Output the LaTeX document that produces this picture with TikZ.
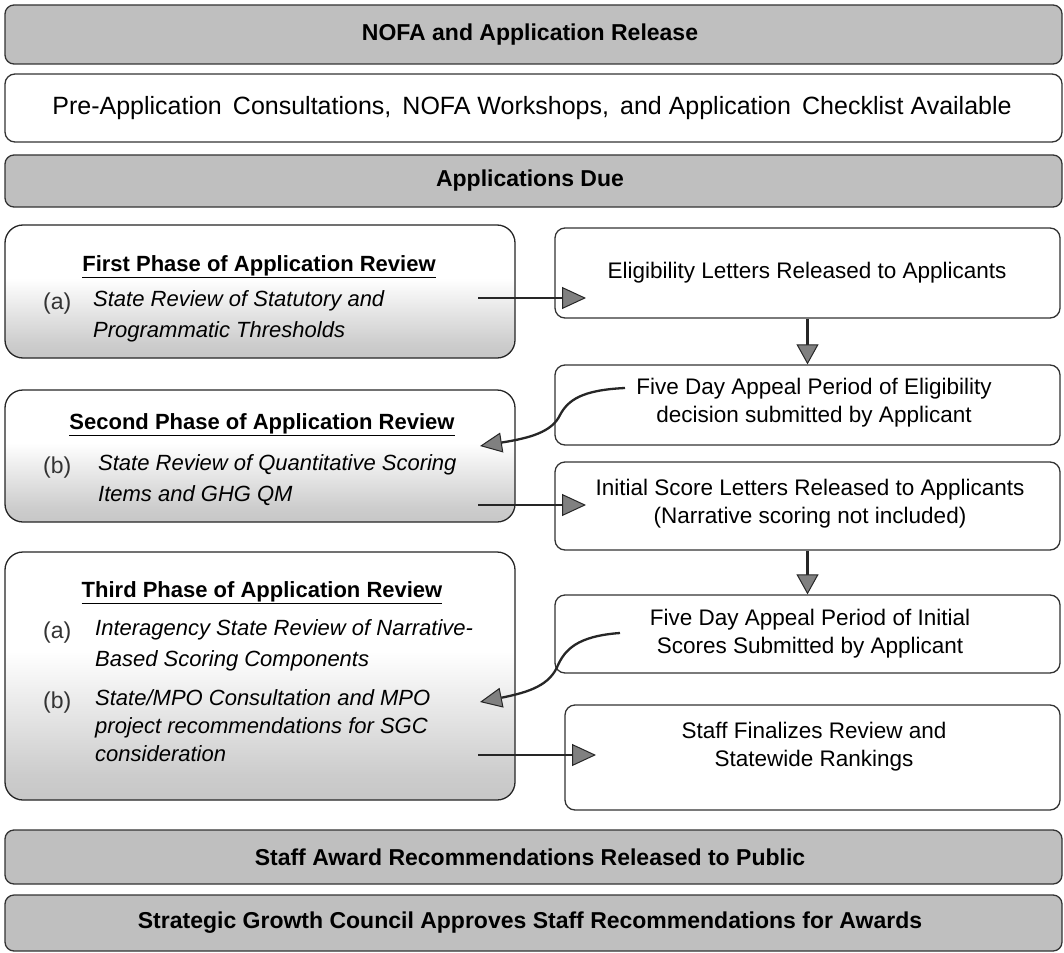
\documentclass[tikz,border=0pt]{standalone}
\usepackage{fontspec}
\setmainfont{Liberation Sans}
\usetikzlibrary{arrows.meta,calc}
\pgfdeclareverticalshading{phasefade}{100bp}{color(0bp)=(black!32); color(30bp)=(black!20); color(55bp)=(white); color(100bp)=(white)}
\begin{document}
\begin{tikzpicture}[x=1pt,y=-1pt,
  bar/.style={draw=black!80, line width=1.3pt, fill=black!25, rounded corners=9pt, inner sep=0pt},
  plain/.style={draw=black!80, line width=1.3pt, fill=white, rounded corners=10pt, inner sep=0pt},
  phase/.style={draw=black!85, line width=1.3pt, shading=phasefade, rounded corners=18pt, inner sep=0pt},
  bartext/.style={font=\fontsize{23}{27}\selectfont\bfseries},
  boxtext/.style={font=\fontsize{22.5}{28}\selectfont, align=center},
  ptitle/.style={font=\fontsize{22}{26}\selectfont\bfseries},
  plabel/.style={font=\fontsize{23}{26}\selectfont, anchor=west, inner sep=0pt, text=black!80},
  pitem/.style={font=\fontsize{22}{31}\selectfont\itshape, anchor=north west, align=left, inner sep=0pt},
  flow/.style={line width=2.3pt, draw=black!85, -{Triangle[length=24pt,width=22pt,fill=black!50,line width=1pt]}},
  down/.style={line width=2.3pt, draw=black!85, -{Triangle[length=20pt,width=22pt,fill=black!50,line width=1pt]}},
  curvy/.style={line width=2.3pt, draw=black!85, -{Triangle[length=22pt,width=20pt,fill=black!50,line width=1pt]}}
]
\useasboundingbox (0,0) rectangle (1064,952);
\fill[white] (0,0) rectangle (1064,952);

% full-width bars
\node[bar, minimum width=1057pt, minimum height=59pt] (nofa) at (533.5,34.5) {};
\node[bartext] (nofat) at (530,34.5) {NOFA and Application Release};
\node[plain, minimum width=1057pt, minimum height=68pt] (pre) at (533.5,108) {};
\node[font=\fontsize{25}{29}\selectfont] (pret) at (532,108) {Pre-Application\, Consultations,\, NOFA Workshops,\, and Application\, Checklist Available};
\node[bar, minimum width=1057pt, minimum height=52pt] (due) at (533.5,181) {};
\node[bartext] (duet) at (530,181) {Applications Due};

% left phase boxes
\node[phase, minimum width=510pt, minimum height=133pt] (first) at (260,291.5) {};
\node[ptitle] (firstt) at (259,267) {\underline{First Phase of Application Review}};
\node[plabel] (firsta) at (43,304) {(a)};
\node[pitem] (firsti) at (93,290) {State Review of Statutory and\\Programmatic Thresholds};

\node[phase, minimum width=510pt, minimum height=132pt] (second) at (260,456) {};
\node[ptitle] (secondt) at (262,425) {\underline{Second Phase of Application Review}};
\node[plabel] (seconda) at (43,468) {(b)};
\node[pitem] (secondi) at (98,454) {State Review of Quantitative Scoring\\Items and GHG QM};

\node[phase, minimum width=510pt, minimum height=248pt] (third) at (260,676) {};
\node[ptitle] (thirdt) at (262,593) {\underline{Third Phase of Application Review}};
\node[plabel] (thirda) at (43,633) {(a)};
\node[pitem] (thirdi) at (95,619) {Interagency State Review of Narrative-\\Based Scoring Components};
\node[plabel] (thirdb) at (43,703) {(b)};
\node[pitem, font=\fontsize{22}{28}\selectfont\itshape] (thirdj) at (95,689) {State/MPO Consultation and MPO\\project recommendations for SGC\\consideration};

% right column boxes
\node[plain, minimum width=505pt, minimum height=90pt] (elig) at (807.5,273) {};
\node[boxtext] (eligt) at (807,273) {Eligibility Letters Released to Applicants};
\node[plain, minimum width=505pt, minimum height=80pt] (app1) at (807.5,405) {};
\node[boxtext] (app1t) at (814,403) {Five Day Appeal Period of Eligibility\\decision submitted by Applicant};
\node[plain, minimum width=505pt, minimum height=88pt] (init) at (807.5,506) {};
\node[boxtext] (initt) at (810,504) {Initial Score Letters Released to Applicants\\(Narrative scoring not included)};
\node[plain, minimum width=505pt, minimum height=78pt] (app2) at (807.5,634) {};
\node[boxtext] (app2t) at (810,634) {Five Day Appeal Period of Initial\\Scores Submitted by Applicant};
\node[plain, minimum width=495pt, minimum height=105pt] (final) at (812.5,757.5) {};
\node[boxtext] (finalt) at (814,747) {Staff Finalizes Review and\\Statewide Rankings};

% bottom bars
\node[bar, minimum width=1057pt, minimum height=54pt] (award) at (533.5,857) {};
\node[bartext] (awardt) at (530,857) {Staff Award Recommendations Released to Public};
\node[bar, minimum width=1057pt, minimum height=56pt] (sgc) at (533.5,923) {};
\node[bartext] (sgct) at (530,923) {Strategic Growth Council Approves Staff Recommendations for Awards};

% arrow end points
\coordinate (f1) at (478,298);
\coordinate (e1) at (586,298);
\coordinate (f2) at (478,505);
\coordinate (e2) at (586,505);
\coordinate (f3) at (478,755);
\coordinate (e3) at (596,755);
\coordinate (c1s) at (625,388);
\coordinate (c1e) at (480,446);
\coordinate (c2s) at (620,633);
\coordinate (c2e) at (480,702);

\draw[flow] (f1) -- (e1);
\draw[flow] (f2) -- (e2);
\draw[flow] (f3) -- (e3);
\draw[down] (elig.south) -- (app1.north);
\draw[down] (init.south) -- (app2.north);
\draw[curvy] (c1s) .. controls (582,390) and (568,400) .. (560,415) .. controls (552,432) and (530,438) .. (c1e);
\draw[curvy] (c2s) .. controls (577,636) and (565,650) .. (558,665) .. controls (550,685) and (530,692) .. (c2e);
\end{tikzpicture}
\end{document}
